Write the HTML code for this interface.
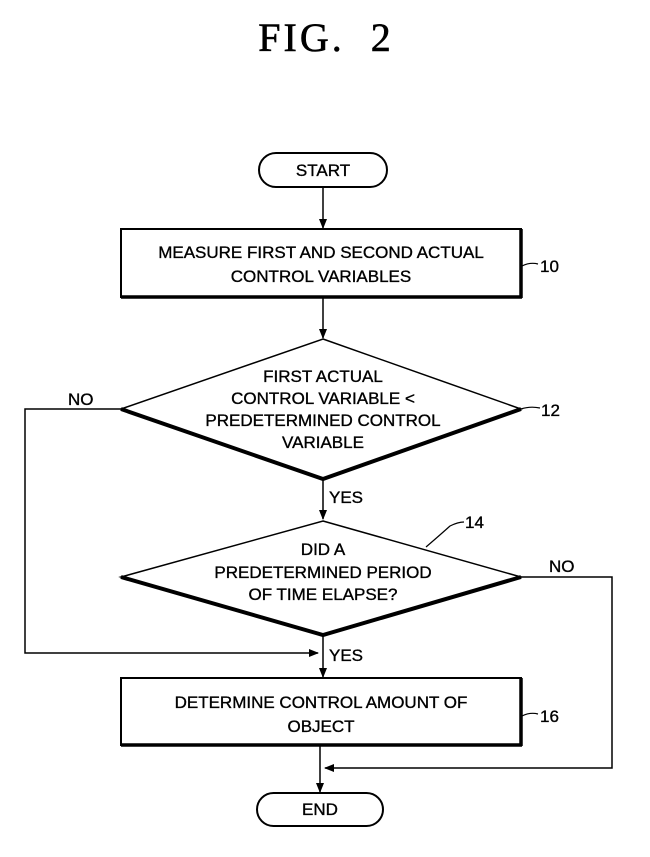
<!DOCTYPE html>
<html><head><style>
html,body{margin:0;padding:0;background:#fff;}
svg{display:block;}
text{font-family:"Liberation Sans",sans-serif;font-size:17px;fill:#000;stroke:#000;stroke-width:0.35px;}
</style></head><body>
<svg width="650" height="857" viewBox="0 0 650 857" xmlns="http://www.w3.org/2000/svg">
<defs><marker id="a" markerWidth="10" markerHeight="8" refX="9" refY="4" orient="auto" markerUnits="userSpaceOnUse"><path d="M0,0 L10,4 L0,8 z" fill="#000"/></marker></defs>
<text x="326" y="51" text-anchor="middle" style="font-family:'Liberation Serif',serif;font-size:40px;letter-spacing:3px;stroke-width:0.6px;" xml:space="preserve">FIG.  2</text>

<rect x="259" y="153" width="128" height="34" rx="17" fill="none" stroke="#000" stroke-width="2"/>
<text x="323" y="176" text-anchor="middle">START</text>
<line x1="323" y1="187" x2="323" y2="228" stroke="#000" stroke-width="1.5" marker-end="url(#a)"/>

<rect x="121" y="229" width="400" height="68" fill="none" stroke="#000" stroke-width="2"/>
<line x1="121" y1="297" x2="522" y2="297" stroke="#000" stroke-width="3.5"/>
<line x1="521" y1="229" x2="521" y2="298" stroke="#000" stroke-width="3.5"/>
<text x="321" y="258" text-anchor="middle">MEASURE FIRST AND SECOND ACTUAL</text>
<text x="321" y="282" text-anchor="middle">CONTROL VARIABLES</text>
<path d="M522,266 Q530,262 538,264" fill="none" stroke="#000" stroke-width="1.2"/>
<text x="540" y="272">10</text>
<line x1="323" y1="297" x2="323" y2="338" stroke="#000" stroke-width="1.5" marker-end="url(#a)"/>

<polygon points="323,339 521,409 323,479 121,409" fill="none" stroke="#000" stroke-width="1.5"/>
<polyline points="121,409 323,479 521,409" fill="none" stroke="#000" stroke-width="4"/>
<text x="323" y="382" text-anchor="middle">FIRST ACTUAL</text>
<text x="323" y="404" text-anchor="middle">CONTROL VARIABLE &lt;</text>
<text x="323" y="426" text-anchor="middle">PREDETERMINED CONTROL</text>
<text x="323" y="448" text-anchor="middle">VARIABLE</text>
<path d="M521,409 Q530,406 540,408" fill="none" stroke="#000" stroke-width="1.2"/>
<text x="541" y="416">12</text>
<text x="68" y="405">NO</text>
<polyline points="121,409 25,409 25,653 318,653" fill="none" stroke="#000" stroke-width="1.5" marker-end="url(#a)"/>

<line x1="323" y1="479" x2="323" y2="519" stroke="#000" stroke-width="1.5" marker-end="url(#a)"/>
<text x="329" y="503">YES</text>

<polygon points="323,521 521,577 323,635 121,577" fill="none" stroke="#000" stroke-width="1.5"/>
<polyline points="121,577 323,635 521,577" fill="none" stroke="#000" stroke-width="4"/>
<text x="323" y="555" text-anchor="middle">DID A</text>
<text x="323" y="578" text-anchor="middle">PREDETERMINED PERIOD</text>
<text x="323" y="600" text-anchor="middle">OF TIME ELAPSE?</text>
<path d="M426,547 Q440,535 450,526 Q458,522 464,522" fill="none" stroke="#000" stroke-width="1.2"/>
<text x="465" y="528">14</text>
<text x="549" y="572">NO</text>
<polyline points="521,577 612,577 612,768 325,768" fill="none" stroke="#000" stroke-width="1.5" marker-end="url(#a)"/>

<line x1="323" y1="635" x2="323" y2="677" stroke="#000" stroke-width="1.5" marker-end="url(#a)"/>
<text x="329" y="661">YES</text>

<rect x="121" y="678" width="400" height="67" fill="none" stroke="#000" stroke-width="2"/>
<line x1="121" y1="745" x2="522" y2="745" stroke="#000" stroke-width="3.5"/>
<line x1="521" y1="678" x2="521" y2="746" stroke="#000" stroke-width="3.5"/>
<text x="321" y="708" text-anchor="middle">DETERMINE CONTROL AMOUNT OF</text>
<text x="321" y="732" text-anchor="middle">OBJECT</text>
<path d="M522,716 Q530,712 538,714" fill="none" stroke="#000" stroke-width="1.2"/>
<text x="540" y="722">16</text>
<line x1="320" y1="745" x2="320" y2="792" stroke="#000" stroke-width="1.5" marker-end="url(#a)"/>

<rect x="257" y="793" width="126" height="33" rx="16.5" fill="none" stroke="#000" stroke-width="2"/>
<text x="320" y="815" text-anchor="middle">END</text>
</svg>
</body></html>
